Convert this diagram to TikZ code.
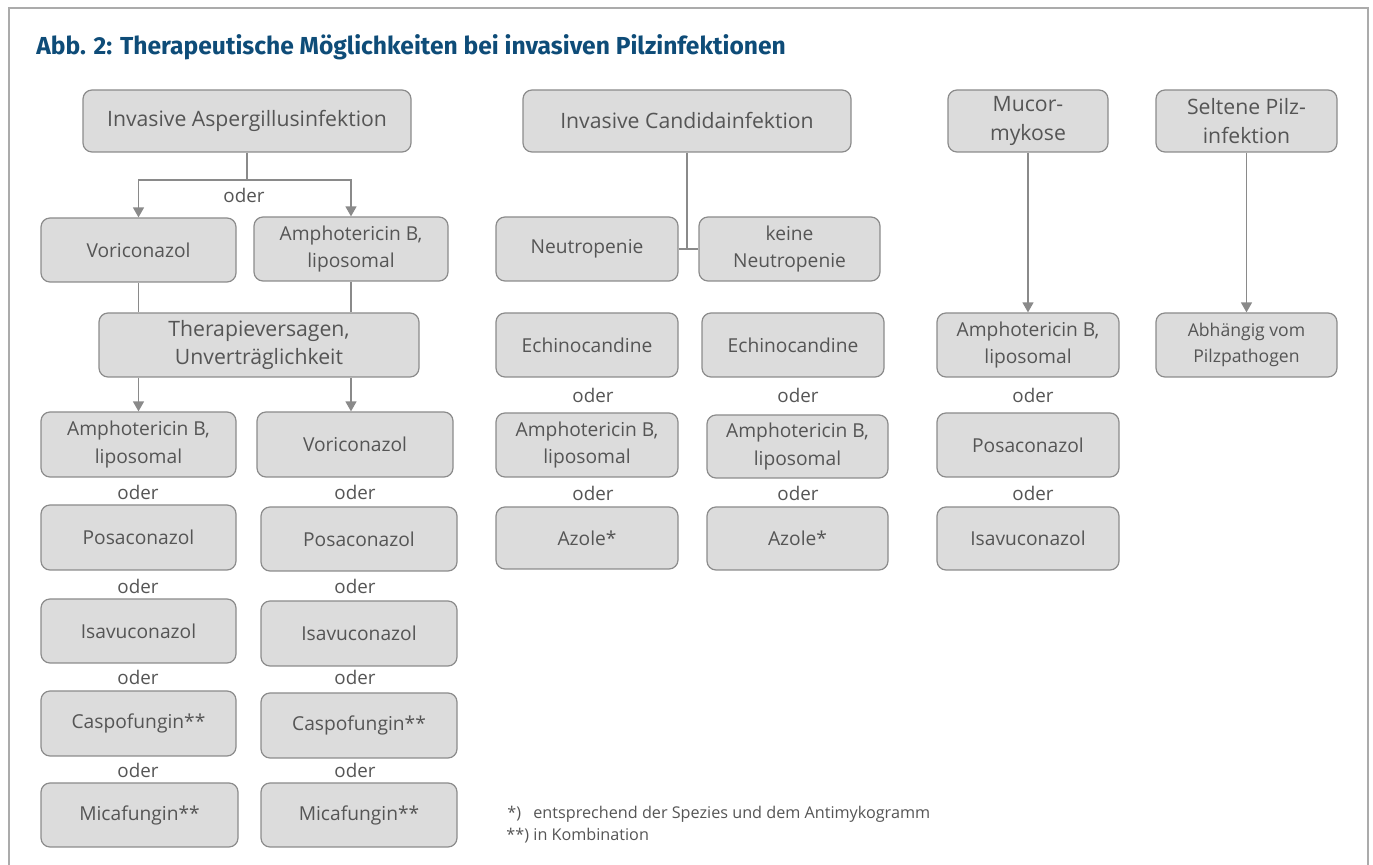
\documentclass[tikz,border=0pt]{standalone}
\usepackage{fontspec}
\setmainfont{Open Sans}
\newfontfamily\titlefont{Fira Sans}
\usetikzlibrary{arrows.meta}
\definecolor{boxfill}{HTML}{DCDCDC}
\definecolor{boxdraw}{HTML}{8C8C8C}
\definecolor{txtgray}{HTML}{555555}
\definecolor{linegray}{HTML}{8A8A8A}
\definecolor{titleblue}{HTML}{0E4C78}
\definecolor{framegray}{HTML}{ABABAB}
\tikzset{
  boxst/.style={draw=boxdraw, line width=0.6pt, fill=boxfill, rounded corners=4.5pt,
    inner sep=0pt, align=center, text=txtgray, font=\fontsize{9.6}{13.6}\selectfont},
  headbox/.style={font=\fontsize{10.6}{14.4}\selectfont},
  smallbox/.style={font=\fontsize{8.8}{13.4}\selectfont},
  oderst/.style={text=txtgray, font=\fontsize{9.4}{11}\selectfont, inner sep=0pt},
  conn/.style={draw=linegray, line width=0.7pt},
  arr/.style={conn, -{Triangle[length=5pt, width=5.5pt]}},
  footst/.style={text=txtgray, font=\fontsize{8.1}{10}\selectfont, inner sep=0pt, anchor=base west}
}
\newcommand\bx[7][]{\node[boxst,#1, minimum width={(#5-#3)*0.5pt}, minimum height={(#6-#4)*0.5pt}] (#2) at ({(#3+#5)/2},{(#4+#6)/2}) {#7};}
\begin{document}
\begin{tikzpicture}[x=0.5pt, y=-0.5pt]
\useasboundingbox (0,0) rectangle (1373,865);
% frame
\draw[framegray, line width=1pt] (9,865) -- (9,8) -- (1368,8) -- (1368,865);
% title
\node[anchor=base west, inner sep=0pt, text=titleblue, font=\titlefont\bfseries\fontsize{12.3}{14}\selectfont] (title) at (36,55) {Abb. 2: Therapeutische Möglichkeiten bei invasiven Pilzinfektionen};
% Aspergillus column
\bx[headbox]{asp}{83}{90}{411}{152}{Invasive Aspergillusinfektion}
\bx{vori1}{41}{218}{236}{282}{Voriconazol}
\bx{amph1}{254}{217}{448}{281}{Amphotericin B,\\liposomal}
\bx[headbox]{ther}{99}{313}{419}{377}{Therapieversagen,\\Unverträglichkeit}
\bx{amph2}{41}{412}{236}{477}{Amphotericin B,\\liposomal}
\bx{vori2}{257}{412}{453}{477}{Voriconazol}
\bx{posa1}{41}{505}{236}{570}{Posaconazol}
\bx{posa2}{261}{507}{457}{571}{Posaconazol}
\bx{isa1}{41}{599}{236}{663}{Isavuconazol}
\bx{isa2}{261}{601}{457}{666}{Isavuconazol}
\bx{casp1}{41}{691}{236}{756}{Caspofungin**}
\bx{casp2}{261}{693}{457}{758}{Caspofungin**}
\bx{mica1}{41}{783}{238}{847}{Micafungin**}
\bx{mica2}{261}{783}{457}{847}{Micafungin**}
% Candida column
\bx[headbox]{cand}{523}{90}{851}{152}{Invasive Candidainfektion}
\bx{neut}{496}{217}{678}{281}{Neutropenie}
\bx{kneut}{699}{217}{880}{281}{keine\\Neutropenie}
\bx{echi1}{496}{313}{678}{377}{Echinocandine}
\bx{echi2}{702}{313}{884}{377}{Echinocandine}
\bx{camph1}{496}{413}{678}{477}{Amphotericin B,\\liposomal}
\bx{camph2}{707}{415}{888}{478}{Amphotericin B,\\liposomal}
\bx{azo1}{496}{507}{678}{569}{Azole*}
\bx{azo2}{707}{507}{888}{570}{Azole*}
% Mucor column
\bx[headbox]{muc}{948}{90}{1108}{152}{Mucor-\\mykose}
\bx{mamph}{937}{313}{1119}{377}{Amphotericin B,\\liposomal}
\bx{mposa}{937}{413}{1119}{477}{Posaconazol}
\bx{misa}{937}{507}{1119}{570}{Isavuconazol}
% Seltene column
\bx[headbox]{sel}{1156}{90}{1337}{152}{Seltene Pilz-\\infektion}
\bx[smallbox]{abh}{1156}{313}{1337}{377}{Abhängig vom\\Pilzpathogen}
% oder labels
\node[oderst] (o0) at (244,195) {oder};
\node[oderst] (oL1) at (138,492) {oder};
\node[oderst] (oL2) at (138,586) {oder};
\node[oderst] (oL3) at (138,677) {oder};
\node[oderst] (oL4) at (138,770) {oder};
\node[oderst] (oR1) at (355,492) {oder};
\node[oderst] (oR2) at (355,586) {oder};
\node[oderst] (oR3) at (355,677) {oder};
\node[oderst] (oR4) at (355,770) {oder};
\node[oderst] (oC1) at (593,395) {oder};
\node[oderst] (oC2) at (593,493) {oder};
\node[oderst] (oD1) at (798,395) {oder};
\node[oderst] (oD2) at (798,493) {oder};
\node[oderst] (oM1) at (1033,395) {oder};
\node[oderst] (oM2) at (1033,493) {oder};
% connectors
\coordinate (j1) at (247,180);
\draw[conn] (asp.south) -- (j1);
\draw[arr] (j1) -| (vori1.north);
\draw[arr] (j1) -| (amph1.north);
\draw[conn] (vori1.south) -- (vori1.south |- ther.north);
\draw[conn] (amph1.south) -- (amph1.south |- ther.north);
\draw[arr] (vori1.south |- ther.south) -- (amph2.north);
\draw[arr] (amph1.south |- ther.south) -- (amph1.south |- vori2.north);
\draw[conn] (cand.south) -- (cand.south |- neut.east);
\draw[conn] (neut.east) -- (kneut.west);
\draw[arr] (muc.south) -- (mamph.north);
\draw[arr] (sel.south) -- (abh.north);
% footnotes
\node[footst] (f1a) at (507,819) {*)};
\node[footst] (f1b) at (533,819) {entsprechend der Spezies und dem Antimykogramm};
\node[footst] (f2a) at (506,841) {**)};
\node[footst] (f2b) at (533,841) {in Kombination};
\end{tikzpicture}
\end{document}
